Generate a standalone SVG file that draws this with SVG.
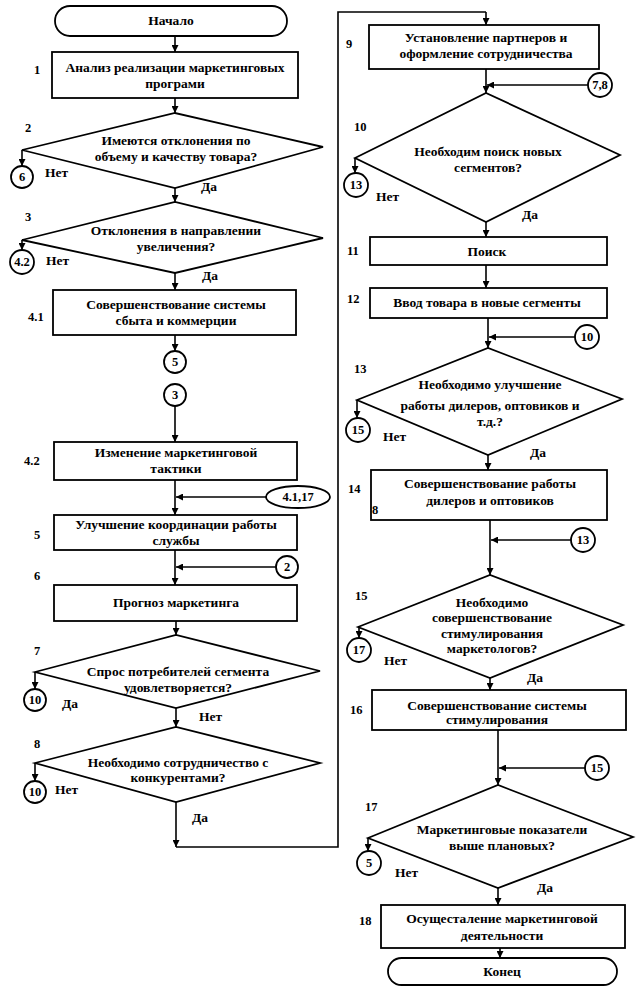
<svg xmlns="http://www.w3.org/2000/svg" width="640" height="1004" viewBox="0 0 640 1004">
<defs>
<marker id="ar" viewBox="0 0 10 10" refX="10" refY="5" markerWidth="7" markerHeight="7" markerUnits="userSpaceOnUse" orient="auto">
<path d="M0,0 L10,5 L0,10 z" fill="#000"/>
</marker>
</defs>
<style>
.b{fill:#fff;stroke:#000;stroke-width:1.8}
.c{fill:none;stroke:#000;stroke-width:1.6}
.a{fill:none;stroke:#000;stroke-width:1.6;marker-end:url(#ar)}
text{font-family:"Liberation Serif","Times New Roman",serif;font-weight:bold;font-size:13.5px;fill:#000}
.m{text-anchor:middle}
.n{font-size:12.5px}
.k{font-size:12.5px;text-anchor:middle}
</style>
<rect width="640" height="1004" fill="#fff"/>

<g id="connectors">
<line class="a" x1="175" y1="36" x2="175" y2="52"/>
<line class="a" x1="175" y1="98" x2="175" y2="113"/>
<line class="a" x1="22" y1="150" x2="22" y2="166"/>
<line class="a" x1="175" y1="188" x2="175" y2="202"/>
<line class="a" x1="22" y1="240" x2="22" y2="250"/>
<line class="a" x1="175" y1="273" x2="175" y2="290"/>
<line class="a" x1="175" y1="335" x2="175" y2="351"/>
<line class="a" x1="175" y1="406" x2="175" y2="442"/>
<line class="a" x1="175" y1="480" x2="175" y2="515"/>
<line class="a" x1="266" y1="497" x2="176" y2="497"/>
<line class="a" x1="175" y1="550" x2="175" y2="585"/>
<line class="a" x1="276" y1="567" x2="176" y2="567"/>
<line class="a" x1="176" y1="621" x2="176" y2="635"/>
<line class="a" x1="35" y1="672" x2="35" y2="689"/>
<line class="a" x1="176" y1="708" x2="176" y2="727"/>
<line class="a" x1="35" y1="763" x2="35" y2="781"/>
<line class="a" x1="176" y1="802" x2="176" y2="847"/>
<polyline class="c" points="176,847 338,847 338,12 486,12"/>
<line class="a" x1="486" y1="12" x2="486" y2="25"/>
<line class="a" x1="486" y1="69" x2="486" y2="93"/>
<line class="a" x1="588" y1="85" x2="487" y2="85"/>
<line class="a" x1="355" y1="158" x2="355" y2="173"/>
<line class="a" x1="486" y1="222" x2="486" y2="237"/>
<line class="a" x1="486" y1="265" x2="486" y2="288"/>
<line class="a" x1="488" y1="318" x2="488" y2="348"/>
<line class="a" x1="575" y1="337" x2="489" y2="337"/>
<line class="a" x1="357" y1="400" x2="357" y2="418"/>
<line class="a" x1="488" y1="455" x2="488" y2="470"/>
<line class="a" x1="490" y1="520" x2="490" y2="575"/>
<line class="a" x1="571" y1="540" x2="491" y2="540"/>
<line class="a" x1="359" y1="627" x2="359" y2="638"/>
<line class="a" x1="490" y1="678" x2="490" y2="690"/>
<line class="a" x1="498" y1="730" x2="498" y2="785"/>
<line class="a" x1="585" y1="768" x2="499" y2="768"/>
<line class="a" x1="368" y1="838" x2="368" y2="851"/>
<line class="a" x1="498" y1="888" x2="498" y2="905"/>
<line class="a" x1="500" y1="948" x2="500" y2="958"/>
</g>

<g id="start">
<rect class="b" x="55" y="6" width="232" height="30" rx="15"/>
<text class="m" x="171" y="25">Начало</text>
</g>

<g id="n1">
<rect class="b" x="52" y="52" width="246" height="46"/>
<text class="m" x="175" y="72">Анализ реализации маркетинговых</text>
<text class="m" x="175" y="88">програми</text>
<text class="n" x="34" y="74">1</text>
</g>

<g id="n2">
<polygon class="b" points="22,150 175,113 323,147 175,188"/>
<text class="m" x="176" y="145">Имеются отклонения по</text>
<text class="m" x="176" y="161">объему и качеству товара?</text>
<text class="n" x="25" y="132">2</text>
<text x="45" y="177">Нет</text>
<text x="201" y="191">Да</text>
</g>
<g id="c6a">
<circle class="b" cx="22" cy="177" r="11"/>
<text class="k" x="22" y="181">6</text>
</g>

<g id="n3">
<polygon class="b" points="22,240 175,202 323,238 175,273"/>
<text class="m" x="176" y="235">Отклонения в направлении</text>
<text class="m" x="176" y="251">увеличения?</text>
<text class="n" x="25" y="221">3</text>
<text x="46" y="265">Нет</text>
<text x="202" y="280">Да</text>
</g>
<g id="c42a">
<circle class="b" cx="22" cy="262" r="12"/>
<text class="k" x="22" y="266">4.2</text>
</g>

<g id="n41">
<rect class="b" x="53" y="290" width="243" height="45"/>
<text class="m" x="176" y="309">Совершенствование системы</text>
<text class="m" x="176" y="325">сбыта и коммерции</text>
<text class="n" x="28" y="321">4.1</text>
</g>
<g id="c5a">
<circle class="b" cx="175" cy="362" r="11"/>
<text class="k" x="175" y="366">5</text>
</g>

<g id="c3a">
<circle class="b" cx="175" cy="395" r="11"/>
<text class="k" x="175" y="399">3</text>
</g>

<g id="n42">
<rect class="b" x="54" y="442" width="243" height="38"/>
<text class="m" x="176" y="457">Изменение маркетинговой</text>
<text class="m" x="176" y="473">тактики</text>
<text class="n" x="24" y="465">4.2</text>
</g>
<g id="c4117">
<ellipse class="b" cx="298" cy="497" rx="32" ry="11"/>
<text class="k" x="298" y="501">4.1,17</text>
</g>

<g id="n5">
<rect class="b" x="54" y="515" width="243" height="35"/>
<text class="m" x="176" y="529">Улучшение координации работы</text>
<text class="m" x="176" y="545">службы</text>
<text class="n" x="34" y="539">5</text>
</g>
<g id="c2a">
<circle class="b" cx="287" cy="567" r="11"/>
<text class="k" x="287" y="571">2</text>
</g>

<g id="n6">
<rect class="b" x="54" y="585" width="243" height="36"/>
<text class="m" x="176" y="607">Прогноз маркетинга</text>
<text class="n" x="34" y="580">6</text>
</g>

<g id="n7">
<polygon class="b" points="35,672 176,635 320,671 176,708"/>
<text class="m" x="178" y="676">Спрос потребителей сегмента</text>
<text class="m" x="178" y="692">удовлетворяется?</text>
<text class="n" x="34" y="655">7</text>
<text x="62" y="708">Да</text>
<text x="199" y="721">Нет</text>
</g>
<g id="c10a">
<circle class="b" cx="35" cy="700" r="11"/>
<text class="k" x="35" y="704">10</text>
</g>

<g id="n8">
<polygon class="b" points="35,763 176,727 320,763 176,802"/>
<text class="m" x="178" y="767">Необходимо сотрудничество с</text>
<text class="m" x="178" y="782">конкурентами?</text>
<text class="n" x="34" y="748">8</text>
<text x="55" y="794">Нет</text>
<text x="192" y="822">Да</text>
</g>
<g id="c10b">
<circle class="b" cx="35" cy="792" r="11"/>
<text class="k" x="35" y="796">10</text>
</g>

<g id="n9">
<rect class="b" x="369" y="25" width="230" height="44"/>
<text class="m" x="486" y="42">Установление партнеров и</text>
<text class="m" x="486" y="58">оформление сотрудничества</text>
<text class="n" x="346" y="48">9</text>
</g>
<g id="c78">
<circle class="b" cx="600" cy="85" r="12"/>
<text class="k" x="600" y="89">7,8</text>
</g>

<g id="n10">
<polygon class="b" points="355,158 486,93 620,155 486,222"/>
<text class="m" x="488" y="156">Необходим поиск новых</text>
<text class="m" x="488" y="172">сегментов?</text>
<text class="n" x="354" y="131">10</text>
<text x="376" y="201">Нет</text>
<text x="522" y="219">Да</text>
</g>
<g id="c13a">
<circle class="b" cx="356" cy="185" r="12"/>
<text class="k" x="356" y="189">13</text>
</g>

<g id="n11">
<rect class="b" x="370" y="237" width="237" height="28"/>
<text class="m" x="487" y="256">Поиск</text>
<text class="n" x="347" y="255">11</text>
</g>

<g id="n12">
<rect class="b" x="370" y="288" width="237" height="30"/>
<text class="m" x="487" y="307">Ввод товара в новые сегменты</text>
<text class="n" x="347" y="303">12</text>
</g>
<g id="c10c">
<circle class="b" cx="587" cy="337" r="12"/>
<text class="k" x="587" y="341">10</text>
</g>

<g id="n13">
<polygon class="b" points="357,400 488,348 622,399 488,455"/>
<text class="m" x="490" y="389">Необходимо улучшение</text>
<text class="m" x="490" y="410">работы дилеров, оптовиков и</text>
<text class="m" x="490" y="426">т.д.?</text>
<text class="n" x="354" y="373">13</text>
<text x="383" y="441">Нет</text>
<text x="530" y="457">Да</text>
</g>
<g id="c15a">
<circle class="b" cx="358" cy="430" r="12"/>
<text class="k" x="358" y="434">15</text>
</g>

<g id="n14">
<rect class="b" x="371" y="470" width="236" height="50"/>
<text class="m" x="490" y="488">Совершенствование работы</text>
<text class="m" x="490" y="505">дилеров и оптовиков</text>
<text class="n" x="348" y="493">14</text>
<text class="n" x="372" y="514">8</text>
</g>
<g id="c13b">
<circle class="b" cx="583" cy="540" r="12"/>
<text class="k" x="583" y="544">13</text>
</g>

<g id="n15">
<polygon class="b" points="358,627 490,575 623,625 490,678"/>
<text class="m" x="492" y="607">Необходимо</text>
<text class="m" x="492" y="622">совершенствование</text>
<text class="m" x="492" y="638">стимулирования</text>
<text class="m" x="492" y="653">маркетологов?</text>
<text class="n" x="355" y="600">15</text>
<text x="384" y="665">Нет</text>
<text x="527" y="682">Да</text>
</g>
<g id="c17a">
<circle class="b" cx="359" cy="650" r="12"/>
<text class="k" x="359" y="654">17</text>
</g>

<g id="n16">
<rect class="b" x="372" y="690" width="254" height="40"/>
<text class="m" x="497" y="710">Совершенствование системы</text>
<text class="m" x="497" y="724">стимулирования</text>
<text class="n" x="350" y="714">16</text>
</g>
<g id="c15b">
<circle class="b" cx="597" cy="768" r="12"/>
<text class="k" x="597" y="772">15</text>
</g>

<g id="n17">
<polygon class="b" points="368,838 498,785 633,837 498,888"/>
<text class="m" x="502" y="834">Маркетинговые показатели</text>
<text class="m" x="502" y="850">выше плановых?</text>
<text class="n" x="365" y="811">17</text>
<text x="395" y="877">Нет</text>
<text x="537" y="892">Да</text>
</g>
<g id="c5b">
<circle class="b" cx="369" cy="863" r="12"/>
<text class="k" x="369" y="867">5</text>
</g>

<g id="n18">
<rect class="b" x="381" y="905" width="244" height="43"/>
<text class="m" x="502" y="923">Осущесталение маркетинговой</text>
<text class="m" x="502" y="940">деятельности</text>
<text class="n" x="359" y="925">18</text>
</g>

<g id="end">
<rect class="b" x="388" y="958" width="229" height="27" rx="13.5"/>
<text class="m" x="502" y="976">Конец</text>
</g>
</svg>
